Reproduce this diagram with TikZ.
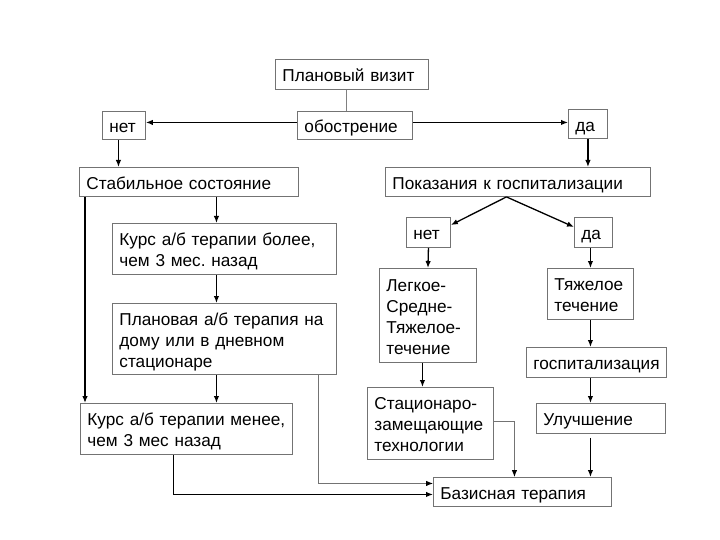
\documentclass[tikz,border=0pt]{standalone}
\usepackage{fontspec}
\setmainfont{Liberation Sans}
\usetikzlibrary{arrows.meta,calc}
\frenchspacing
\begin{document}
\begin{tikzpicture}[x=1pt,y=-1pt,
  box/.style={draw=black!55, line width=0.9pt, anchor=north west, inner xsep=7pt, inner ysep=0pt,
    align=left, font=\fontsize{17.2}{21}\selectfont,
    execute at begin node=\rule{0pt}{18pt}, execute at end node=\rule[-3pt]{0pt}{3pt}},
  arr/.style={draw=black, line width=1.3pt, -{Latex[length=7pt,width=5.5pt]}},
  thinarr/.style={draw=black!55, line width=0.9pt, -{Latex[length=7pt,width=5.5pt,fill=black,color=black]}},
  thinline/.style={draw=black!50, line width=0.9pt}]
\useasboundingbox (0,0) rectangle (720,540);
\fill[white] (0,0) rectangle (720,540);
% boxes
\node[box,minimum width=153,minimum height=30,text width=139] (visit) at (275,59) {Плановый визит};
\node[box,minimum width=115,minimum height=28,text width=101] (obostr) at (297,111) {обострение};
\node[box,minimum width=43,minimum height=28,text width=29] (net1) at (102,111) {нет};
\node[box,minimum width=39,minimum height=29,text width=25] (da1) at (568,109) {да};
\node[box,minimum width=219,minimum height=29,text width=205] (stab) at (79,167) {Стабильное состояние};
\node[box,minimum width=265,minimum height=29,text width=251] (pokaz) at (385,167) {Показания к госпитализации};
\node[box,minimum width=224,minimum height=51,text width=210] (bolee) at (112,223) {Курс а/б терапии более,\\чем 3 мес. назад};
\node[box,minimum width=224,minimum height=71,text width=210] (plan) at (112,303) {Плановая а/б терапия на\\дому или в дневном\\стационаре};
\node[box,minimum width=212,minimum height=51,text width=198] (menee) at (80,403) {Курс а/б терапии менее,\\чем 3 мес назад};
\node[box,minimum width=44,minimum height=30,text width=30] (net2) at (406,217) {нет};
\node[box,minimum width=38,minimum height=30,text width=24] (da2) at (574,217) {да};
\node[box,minimum width=97,minimum height=94,text width=83] (legk) at (379,268) {Легкое-\\Средне-\\Тяжелое-\\течение};
\node[box,minimum width=86,minimum height=51,text width=72] (tyazh) at (547,268) {Тяжелое\\течение};
\node[box,minimum width=140,minimum height=30,text width=126] (gosp) at (526,347) {госпитализация};
\node[box,minimum width=126,minimum height=72,text width=112] (stac) at (367,387) {Стационаро-\\замещающие\\технологии};
\node[box,minimum width=129,minimum height=30,text width=115] (ulu) at (536,403) {Улучшение};
\node[box,minimum width=178,minimum height=29,text width=164] (baz) at (433,477) {Базисная терапия};
% connectors
\draw[thinline] ($(visit.south)+(-5.5,0)$) -- ($(obostr.north)+(-8.5,0)$);
\draw[arr] ([yshift=3pt]obostr.west) -- ([yshift=3pt]net1.east);
\draw[arr] ([yshift=3pt]obostr.east) -- ([yshift=3pt]obostr.east -| da1.west);
\draw[arr] ([xshift=-5.5pt]net1.south) -- ([xshift=-5.5pt]net1.south |- stab.north);
\draw[arr] (da1.south) -- (da1.south |- pokaz.north);
\draw[arr] ([xshift=6pt]stab.south west) -- ([xshift=6pt]stab.south west |- menee.north);
\draw[arr] ([xshift=-8pt]bolee.north |- stab.south) -- ([xshift=-8pt]bolee.north);
\draw[arr] ([xshift=-8pt]bolee.south) -- ([xshift=-8pt]plan.north);
\draw[arr] ([xshift=-8pt]plan.south) -- ([xshift=-8pt]plan.south |- menee.north);
\draw[arr] ([xshift=-13pt]menee.south) |- ([yshift=-2.5pt]baz.west);
\draw[thinarr] ([xshift=-18pt]plan.south east) |- ([yshift=8.5pt]baz.west);
\coordinate (split) at ([xshift=-11.5pt]pokaz.south);
\draw[arr] (split) -- ([yshift=-8pt]net2.north east);
\draw[arr] (split) -- ([yshift=-10pt]da2.north west);
\draw[arr] (net2.south) -- (legk.north);
\draw[arr] (da2.south -| tyazh.north) -- (tyazh.north);
\draw[arr] (tyazh.south) -- (tyazh.south |- gosp.north);
\draw[arr] (tyazh.south |- gosp.south) -- (tyazh.south |- ulu.north);
\draw[arr] ([yshift=-4pt]tyazh.south |- ulu.south) -- (tyazh.south |- baz.north);
\draw[arr] ([xshift=-5.5pt]legk.south) -- ([xshift=-5.5pt]legk.south |- stac.north);
\draw[thinarr] ([yshift=2pt]stac.east) -| ([xshift=-8pt]baz.north);
\end{tikzpicture}
\end{document}
